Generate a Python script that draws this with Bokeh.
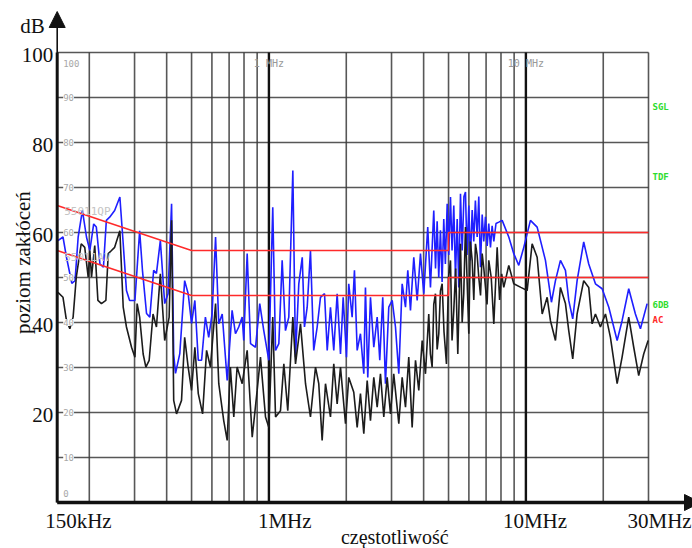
from math import pi, log10
from bokeh.plotting import figure
from bokeh.models import Range1d, Label, Arrow, NormalHead
from bokeh.embed import file_html
from bokeh.resources import INLINE

# ---------------- data (frequency in kHz, level in dB) ----------------
blue_freq_khz = [151, 158, 163, 171, 176, 181, 188, 195, 201, 208, 213, 220, 227, 233, 240, 251, 263, 271,
                 279, 287, 301, 314, 322, 334, 344, 356, 365, 378, 393, 405, 418, 426, 433, 450, 470, 485,
                 500, 515, 531, 547, 566, 583, 601, 620, 638, 658, 688, 719, 741, 763, 787, 798, 823, 848,
                 887, 921, 955, 999, 1035, 1061, 1093, 1126, 1160, 1195, 1239, 1269, 1307, 1348, 1375, 1409,
                 1451, 1494, 1541, 1587, 1646, 1686, 1736, 1788, 1843, 1899, 1945, 2004, 2045, 2108, 2152,
                 2205, 2271, 2340, 2375, 2425, 2484, 2559, 2638, 2700, 2773, 2841, 2927, 3018, 3108, 3202,
                 3300, 3400, 3471, 3555, 3662, 3775, 3888, 4005, 4150, 4252, 4380, 4450, 4515, 4580, 4650,
                 4720, 4791, 4860, 4940, 5010, 5088, 5160, 5241, 5320, 5403, 5480, 5565, 5650, 5740, 5820,
                 5900, 5996, 6080, 6180, 6269, 6360, 6462, 6557, 6657, 6760, 6857, 6960, 7070, 7170, 7280,
                 7390, 7502, 7650, 7844, 8085,
                 8578, 8972, 9381, 9812, 10416, 11061, 11915, 12572, 13032, 13629, 14253, 14682, 15215,
                 15823, 16788, 17560, 18647, 19800, 21017, 22650, 23680, 25130, 26680, 27910, 29640]
blue_db = [58.2, 59, 54.5, 48.7, 49.3, 59, 64.9, 59, 56, 61.9, 61.2, 53, 52.3, 62.7, 63.4, 64.9, 67.9, 57.5,
           47.1, 44.9, 44.9, 60.4, 51.6, 42, 41.2, 51.6, 50.9, 58.2, 44.2, 46.4, 66.4, 33, 28.7, 33.1, 49.3, 46.4,
           39.8, 44.9, 31.6, 31.6, 41.2, 36.7, 41.9, 59, 39.7, 41.9, 27.1, 42.7, 37.5, 39, 41.2, 36, 55.3, 35.3,
           34.5, 44.2, 38.2, 31.6, 65.6, 33.8, 35.3, 53.8, 38.2, 41.2, 73.8, 32.3, 48.6, 54.5, 39, 43.4,
           56, 33.8, 39, 45.6, 46.4, 33.8, 43.4, 33.8, 46.4, 33, 45.6, 32.3, 48.6, 41.2, 51.6,
           33.8, 37.5, 28.6, 47.8, 27.8, 45.6, 34.5, 41.2, 31.6, 45.6, 26.4, 43.4, 44.9, 39, 28.6,
           48.6, 43.4, 51.6, 42.7, 54.5, 44.9, 55.3, 46.4, 61.2, 47.8, 64.9, 52, 62.5, 50, 60.5,
           49, 63, 53, 66.4, 55, 67.9, 56, 66, 50, 63, 47.8, 68.6, 56, 68, 69,
           55, 66, 53.8, 65, 58, 67.1, 59, 68, 52.3, 64, 58, 63.5, 57, 62, 56.7,
           61.5, 58, 62, 62.3, 62.7,
           59, 55.3, 52.7, 56.7, 62.7, 61.2, 53.8, 44.5, 49.3, 53.8, 51.6, 44.9, 40.8,
           49.3, 57.9, 53, 48.6, 47.5, 43.4, 36, 40.4, 47.5, 41.9, 38.6, 44.2]

black_freq_khz = [151, 158, 163, 168, 173, 178, 186, 192, 198, 201, 204, 210, 216, 223, 232, 237, 244, 251,
                  263, 271, 279, 292, 301, 307, 314, 324, 332, 342, 354, 365, 378, 393, 409, 418, 426, 437,
                  457, 470, 485, 500, 515, 531, 552, 572, 592, 620, 638, 667, 688, 708, 730, 752, 787, 823,
                  861, 900, 927, 970, 999, 1035, 1061, 1109, 1143, 1184, 1239, 1269, 1327, 1388, 1451, 1518,
                  1563, 1611, 1660, 1736, 1788, 1843, 1899, 1986, 2045, 2139, 2205, 2271, 2340, 2412, 2484,
                  2559, 2638, 2717, 2799, 2885, 2972, 3060, 3202, 3300, 3400, 3501, 3609, 3719, 3830, 3948,
                  4066, 4188, 4250, 4317, 4380, 4448, 4515, 4582, 4650, 4722, 4800, 4908, 5000, 5088, 5160,
                  5241, 5330, 5433, 5565, 5650, 5730, 5820, 5900, 5996, 6080, 6180, 6270, 6364, 6460, 6555,
                  6660, 6759, 6860, 6962, 7060, 7170, 7330, 7502, 7731, 7900, 8050, 8202, 8578, 8972, 9557,
                  10113, 10575,
                  11061, 11571, 12099, 12461, 13032, 13629, 14253, 14682, 15215, 15823, 16788, 17560, 18100,
                  18647, 19500, 20400, 21330, 22650, 23680, 25130, 26280, 27480, 28740, 29900]
black_db = [46.7, 45.6, 40.4, 38.6, 41.2, 50.1, 57.5, 56.7, 50.1, 56, 50.1, 57.1, 44.9, 44.2, 44.9, 55.3, 56, 56.7,
            60.4, 43.4, 39, 34.5, 32.3, 44.2, 41.2, 33, 30.1, 31.6, 41.9, 39, 50.8, 36, 41.2, 62.7, 22.7, 19.7,
            22.7, 36.7, 30.1, 24.9, 34.5, 24.2, 19.7, 33.8, 30.1, 44.2, 26.4, 18.2, 13.8, 30.1, 19, 30.1, 26.4, 33.8,
            14.5, 24.9, 32.3, 19, 16.7, 41.2, 19, 20.4, 30.8, 20.4, 41.2, 30.8, 39.7, 26.4, 19, 30.1,
            26.4, 13.8, 26.4, 19, 30.8, 21.9, 30.1, 17.5, 27.8, 24.5, 16.7, 24.2, 15.3, 27.1, 18.2,
            27.8, 21.2, 28.6, 19, 27.8, 19.7, 28.6, 17.5, 27.8, 21.2, 32.3, 16.7, 31.6, 24.9, 36,
            28.6, 41.9, 33, 30.1, 44, 46.4, 34, 37.5, 47, 48.6, 38, 30.8, 50, 53.8, 36,
            42.7, 52, 33, 57.5, 40, 46.4, 61.2, 50, 37.5, 58, 53.8, 45, 57.5, 55, 50.1,
            46, 55.3, 52, 47.8, 44, 53.8, 50, 39.7, 56.7, 45, 50.8, 47.8, 52.7, 48.6, 47.8,
            47.1, 57.5,
            54.5, 41.9, 45.6, 40.4, 36, 47.8, 44.2, 38.2, 31.9, 41.9, 49.3, 47.8, 39.7,
            41.9, 39, 41.9, 36.7, 26.4, 32.3, 41.2, 34.5, 28.2, 33, 36]

qp_limit_freq_khz = [150, 500, 5000, 5000, 30000]
qp_limit_db = [66, 56, 56, 60, 60]
av_limit_freq_khz = [150, 500, 5000, 5000, 30000]
av_limit_db = [56, 46, 46, 50, 50]

grid_db = [10, 20, 30, 40, 50, 60, 70, 80, 90, 100]
grid_freq_khz = [200, 300, 400, 500, 600, 700, 800, 900,
                 2000, 3000, 4000, 5000, 6000, 7000, 8000, 9000, 20000, 30000]
decade_freq_khz = [1000, 10000]

y_tick_values = [20, 40, 60, 80, 100]
x_tick_values = [150, 1000, 10000, 30000]
x_tick_labels = ["150kHz", "1MHz", "10MHz", "30MHz"]
x_tick_offsets = [-12, -11, -23, -21]
inner_db_labels = [0, 10, 20, 30, 40, 50, 60, 70, 80, 90, 100]

F_MIN, F_MAX, DB_MIN, DB_MAX = 150, 30000, 0, 100

# ---------------- layout: the whole canvas is the frame ----------------
W, H = 692, 548
PL, PR, PT, PB = 56.7, 648.0, 52.0, 502.0          # plot-area edges in pixels
px_per_dec = (PR - PL) / log10(F_MAX / F_MIN)
px_per_db = (PB - PT) / (DB_MAX - DB_MIN)
x_lo = F_MIN * 10 ** (-PL / px_per_dec)
x_hi = F_MIN * 10 ** ((W - PL) / px_per_dec)
y_lo = DB_MIN - (H - PB) / px_per_db
y_hi = DB_MAX + PT / px_per_db

def fx(px):   # pixel column -> frequency (for decorations outside the plot area)
    return F_MIN * 10 ** ((px - PL) / px_per_dec)

def fy(py):   # pixel row -> dB (for decorations outside the plot area)
    return DB_MIN + (PB - py) / px_per_db

SERIF = "Liberation Serif"
MONO = "DejaVu Sans Mono"

p = figure(width=W, height=H, x_axis_type="log",
           x_range=Range1d(x_lo, x_hi), y_range=Range1d(y_lo, y_hi),
           output_backend="svg", toolbar_location=None,
           min_border_left=0, min_border_right=0, min_border_top=0, min_border_bottom=0)
p.axis.visible = False
p.grid.visible = False
p.outline_line_color = None
p.background_fill_color = "white"
p.border_fill_color = "white"

# grid
p.segment(x0=grid_freq_khz, y0=[DB_MIN] * len(grid_freq_khz), x1=grid_freq_khz,
          y1=[DB_MAX] * len(grid_freq_khz), line_color="#3a3a3a", line_width=1.6, line_alpha=0.85)
p.segment(x0=[F_MIN] * len(grid_db), y0=grid_db, x1=[F_MAX] * len(grid_db), y1=grid_db,
          line_color="#3a3a3a", line_width=1.6, line_alpha=0.85)
p.segment(x0=decade_freq_khz, y0=[DB_MIN] * 2, x1=decade_freq_khz, y1=[DB_MAX] * 2,
          line_color="#111111", line_width=2.4)

# inner small gray labels
for v in inner_db_labels:
    off = 0
    if v == 100:
        off = -11
    elif v == 0:
        off = 9
    p.add_layout(Label(x=F_MIN, y=v, x_offset=6, y_offset=off, text=str(v), text_font=MONO,
                       text_font_size="9px", text_color="#a8a8a8", text_align="left",
                       text_baseline="middle",
                       background_fill_color="white" if v not in (0, 100) else None))
for f, t in zip(decade_freq_khz, ["1 MHz", "10 MHz"]):
    p.add_layout(Label(x=f, y=DB_MAX, y_offset=-11, text=t, text_font=MONO, text_font_size="10px",
                       text_color="#999999", text_align="center", text_baseline="middle"))
p.add_layout(Label(x=F_MIN, y=64.7, x_offset=7, text="55011QP", text_font=MONO, text_font_size="11px",
                   text_color="#c4c4c4", text_baseline="middle"))
p.add_layout(Label(x=F_MIN, y=54.5, x_offset=7, text="55011AV", text_font=MONO, text_font_size="11px",
                   text_color="#c4c4c4", text_baseline="middle"))

# traces
p.line(blue_freq_khz, blue_db, line_color="#1f1fff", line_width=1.6)
p.line(black_freq_khz, black_db, line_color="#1c1c1c", line_width=1.6)
p.line(qp_limit_freq_khz, qp_limit_db, line_color="#ff2a2a", line_width=1.6)
p.line(av_limit_freq_khz, av_limit_db, line_color="#ff2a2a", line_width=1.6)

# axes with arrows
p.add_layout(Arrow(end=NormalHead(size=16, fill_color="#111111", line_color="#111111"),
                   x_start=F_MIN, y_start=DB_MIN, x_end=F_MIN, y_end=fy(11), line_color="#111111",
                   line_width=1.6))
p.segment(x0=[F_MIN], y0=[DB_MIN], x1=[F_MIN], y1=[DB_MAX], line_color="#111111", line_width=3)
p.add_layout(Arrow(end=NormalHead(size=16, fill_color="#111111", line_color="#111111"),
                   x_start=F_MIN, y_start=DB_MIN, x_end=fx(700), y_end=DB_MIN, line_color="#111111",
                   line_width=3.5))

# tick labels
for v in y_tick_values:
    p.add_layout(Label(x=F_MIN, y=v, x_offset=-4, y_offset=-2, text=str(v), text_font=SERIF,
                       text_font_size="21px", text_color="#111111", text_align="right",
                       text_baseline="middle"))
for f, t, o in zip(x_tick_values, x_tick_labels, x_tick_offsets):
    p.add_layout(Label(x=f, y=DB_MIN, x_offset=o, y_offset=-18, text=t, text_font=SERIF,
                       text_font_size="21px", text_color="#111111", text_align="left",
                       text_baseline="middle"))

p.add_layout(Label(x=F_MIN, y=DB_MAX, x_offset=-37, y_offset=27, text="dB", text_font=SERIF,
                   text_font_size="21px", text_color="#111111", text_align="left", text_baseline="middle"))
p.add_layout(Label(x=F_MIN, y=53.3, x_offset=-34, text="poziom zakłóceń", text_font=SERIF,
                   text_font_size="21px", text_color="#111111", text_align="center",
                   text_baseline="middle", angle=pi / 2))
p.add_layout(Label(x=1000, y=DB_MIN, x_offset=72, y_offset=-34, text="częstotliwość", text_font=SERIF,
                   text_font_size="20px", text_color="#111111", text_align="left", text_baseline="middle"))

# right-side status labels
for y, t, c in [(88, "SGL", "#2edc2e"), (72.3, "TDF", "#2edc2e"), (43.8, "6DB", "#2edc2e"),
                (40.5, "AC", "#ff2a2a")]:
    p.add_layout(Label(x=F_MAX, y=y, x_offset=4, text=t, text_font=MONO, text_font_size="9px",
                       text_font_style="bold", text_color=c, text_align="left", text_baseline="middle"))

open("out.html", "w").write(file_html(p, INLINE))
